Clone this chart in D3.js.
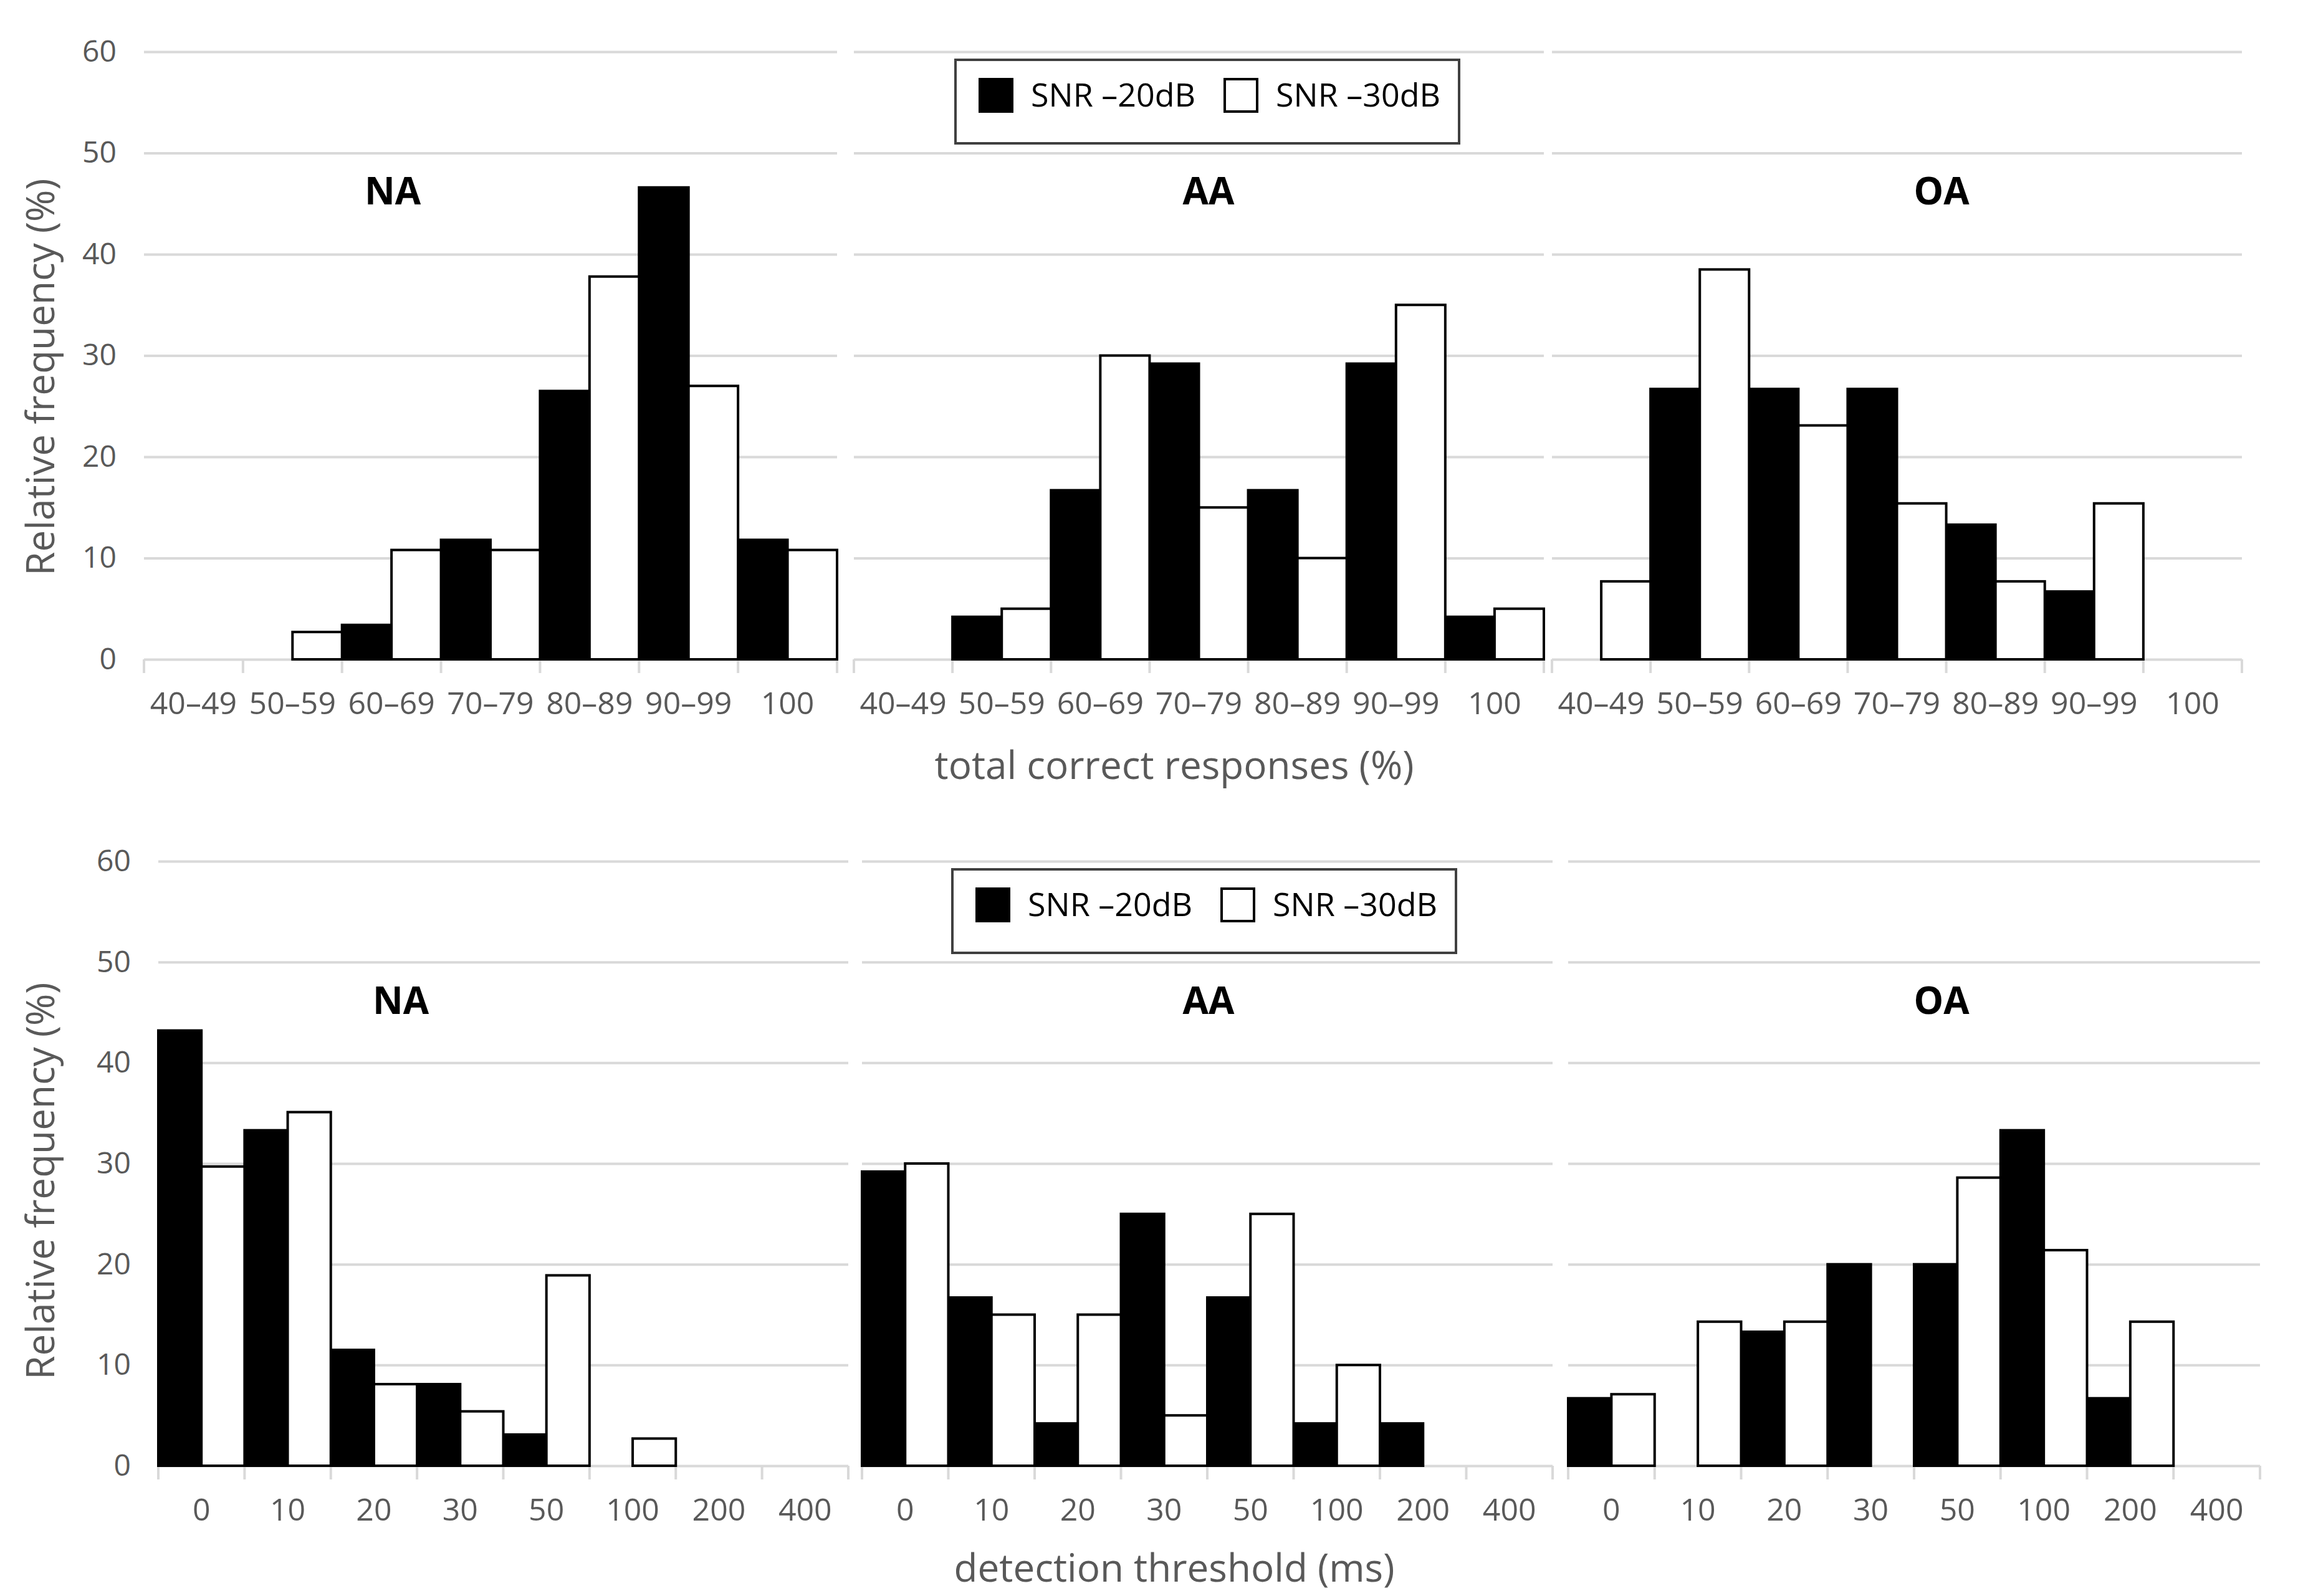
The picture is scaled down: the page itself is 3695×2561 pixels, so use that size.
<!DOCTYPE html>
<html>
<head>
<meta charset="utf-8">
<script src="https://cdn.jsdelivr.net/npm/d3@7"></script>
<style>
  body { margin: 0; background: #fff; }
  text { font-family: "Open Sans", "Noto Sans", sans-serif; }
</style>
</head>
<body>
<script>
// categories
var topCats = ["40–49", "50–59", "60–69", "70–79", "80–89", "90–99", "100"];
var botCats = ["0", "10", "20", "30", "50", "100", "200", "400"];
var groups = ["NA", "AA", "OA"];
var seriesNames = ["SNR –20dB", "SNR –30dB"];
var yTicks = [0, 10, 20, 30, 40, 50, 60];

// total correct responses (%), relative frequency
var topNA20 = [0, 0, 3.4, 11.8, 26.5, 46.6, 11.8];
var topNA30 = [0, 2.7, 10.8, 10.8, 37.8, 27.0, 10.8];
var topAA20 = [0, 4.2, 16.7, 29.2, 16.7, 29.2, 4.2];
var topAA30 = [0, 5, 30, 15, 10, 35, 5];
var topOA20 = [0, 26.7, 26.7, 26.7, 13.3, 6.7, 0];
var topOA30 = [7.7, 38.5, 23.1, 15.4, 7.7, 15.4, 0];

// detection threshold (ms), relative frequency
var botNA20 = [43.2, 33.3, 11.5, 8.1, 3.1, 0, 0, 0];
var botNA30 = [29.7, 35.1, 8.1, 5.4, 18.9, 2.7, 0, 0];
var botAA20 = [29.2, 16.7, 4.2, 25, 16.7, 4.2, 4.2, 0];
var botAA30 = [30, 15, 15, 5, 25, 10, 0, 0];
var botOA20 = [6.7, 0, 13.3, 20, 20, 33.3, 6.7, 0];
var botOA30 = [7.1, 14.3, 14.3, 0, 28.6, 21.4, 14.3, 0];

var width = 3695, height = 2561;
var grid = "#d9d9d9", labelCol = "#595959";

var rows = [
  { cats: topCats, y0: 1058, y60: 83,
    xr: [[231, 1343], [1370, 2477], [2490, 3597]],
    titles: [[630, 307], [1939, 307], [3115, 307]],
    legend: [1533, 96, 808, 134],
    xTitle: "total correct responses (%)", xTitleY: 1228, yTitleY: 605,
    data: [[topNA20, topNA30], [topAA20, topAA30], [topOA20, topOA30]] },
  { cats: botCats, y0: 2352, y60: 1382,
    xr: [[254, 1361], [1383, 2491], [2516, 3626]],
    titles: [[643, 1606], [1939, 1606], [3115, 1606]],
    legend: [1528, 1395, 808, 134],
    xTitle: "detection threshold (ms)", xTitleY: 2516, yTitleY: 1895,
    data: [[botNA20, botNA30], [botAA20, botAA30], [botOA20, botOA30]] }
];

var svg = d3.select("body").append("svg")
    .attr("width", width)
    .attr("height", height);

rows.forEach(function(row) {
  var y = d3.scaleLinear().domain([0, 60]).range([row.y0, row.y60]);

  groups.forEach(function(grp, gi) {
    var x0 = row.xr[gi][0], x1 = row.xr[gi][1];
    var x = d3.scaleBand().domain(row.cats).range([x0, x1]).padding(0);
    var xs = d3.scaleBand().domain([0, 1]).range([0, x.bandwidth()]);
    var g = svg.append("g");

    // gridlines
    g.append("g")
        .attr("transform", "translate(" + x0 + ",0)")
        .call(d3.axisLeft(y).tickValues(yTicks).tickSize(-(x1 - x0)).tickFormat(""))
        .call(function(a) { a.select(".domain").remove(); })
        .selectAll("line")
          .attr("stroke", grid)
          .attr("stroke-width", 4);

    // y tick labels only on the first panel
    if (gi == 0) {
      g.append("g")
          .attr("transform", "translate(" + x0 + ",0)")
          .call(d3.axisLeft(y).tickValues(yTicks).tickSize(0).tickPadding(44))
          .call(function(a) { a.select(".domain").remove(); })
          .selectAll("text")
            .attr("fill", labelCol)
            .style("font-size", "48px");
    }

    // x axis labels
    g.append("g")
        .attr("transform", "translate(0," + row.y0 + ")")
        .call(d3.axisBottom(x).tickSize(0))
        .call(function(a) { a.select(".domain").remove(); })
        .selectAll("text")
          .attr("y", 70)
          .attr("dy", "0.35em")
          .attr("fill", labelCol)
          .style("font-size", "50px");

    // tick marks at the category edges
    var edges = row.cats.map(function(c) { return x(c); }).concat([x1]);
    g.selectAll(".edge")
      .data(edges)
      .enter().append("line")
        .attr("x1", function(d) { return d; })
        .attr("x2", function(d) { return d; })
        .attr("y1", row.y0)
        .attr("y2", row.y0 + 22)
        .attr("stroke", grid)
        .attr("stroke-width", 4);

    // bars
    row.data[gi].forEach(function(vals, si) {
      var pts = vals.map(function(v, i) { return { cat: row.cats[i], v: v }; })
                    .filter(function(d) { return d.v > 0; });
      g.selectAll(".bar" + si)
        .data(pts)
        .enter().append("rect")
          .attr("x", function(d) { return x(d.cat) + xs(si); })
          .attr("y", function(d) { return y(d.v); })
          .attr("width", xs.bandwidth())
          .attr("height", function(d) { return row.y0 - y(d.v); })
          .attr("fill", si == 0 ? "#000" : "#fff")
          .attr("stroke", "#000")
          .attr("stroke-width", 4);
    });

    // panel title
    g.append("text")
        .attr("x", row.titles[gi][0])
        .attr("y", row.titles[gi][1])
        .attr("dy", "0.35em")
        .attr("text-anchor", "middle")
        .style("font-size", "60px")
        .style("font-weight", "bold")
        .text(grp);
  });

  // legend
  var lg = svg.append("g").attr("transform", "translate(" + row.legend[0] + "," + row.legend[1] + ")");
  lg.append("rect")
      .attr("width", row.legend[2])
      .attr("height", row.legend[3])
      .attr("fill", "#fff")
      .attr("stroke", "#404040")
      .attr("stroke-width", 4);
  var itemX = [39, 432];
  seriesNames.forEach(function(name, si) {
    lg.append("rect")
        .attr("x", itemX[si])
        .attr("y", 31)
        .attr("width", 52)
        .attr("height", 52)
        .attr("fill", si == 0 ? "#000" : "#fff")
        .attr("stroke", "#000")
        .attr("stroke-width", 4);
    lg.append("text")
        .attr("x", itemX[si] + 82)
        .attr("y", 57)
        .attr("dy", "0.35em")
        .style("font-size", "52px")
        .attr("fill", "#000")
        .text(name);
  });

  // axis titles
  svg.append("text")
      .attr("x", 1884)
      .attr("y", row.xTitleY)
      .attr("dy", "0.35em")
      .attr("text-anchor", "middle")
      .attr("fill", labelCol)
      .style("font-size", "62px")
      .text(row.xTitle);

  svg.append("text")
      .attr("transform", "translate(65," + row.yTitleY + ") rotate(-90)")
      .attr("dy", "0.35em")
      .attr("text-anchor", "middle")
      .attr("fill", labelCol)
      .style("font-size", "62px")
      .text("Relative frequency (%)");
});
</script>
</body>
</html>
